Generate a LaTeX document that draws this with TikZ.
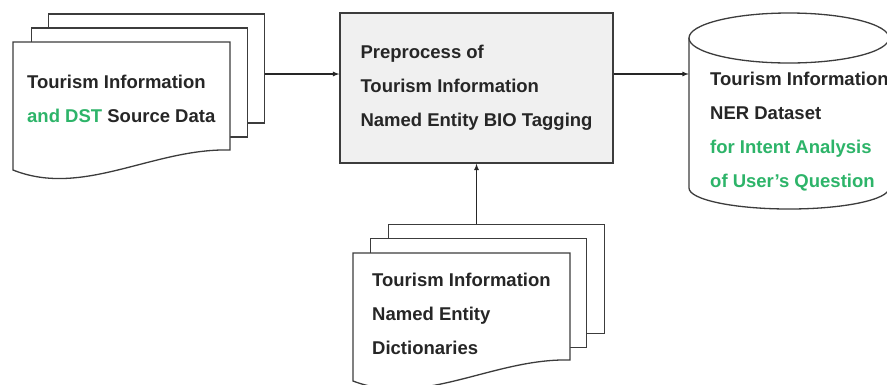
\documentclass[tikz,border=0pt]{standalone}
\usepackage{fontspec}
\setmainfont{Liberation Sans}
\usepackage{tikz}
\usetikzlibrary{arrows}
\definecolor{kwgreen}{RGB}{45,180,105}
\definecolor{procgray}{RGB}{240,240,240}
\definecolor{edgegray}{RGB}{60,60,60}

\tikzset{
  page/.style={shape=rectangle, draw=edgegray, fill=white, line width=1.3pt, minimum width=216pt, minimum height=109pt, inner sep=0pt},
  frontpage/.style={draw=edgegray, fill=white, line width=1.3pt},
  procbox/.style={shape=rectangle, draw=edgegray, fill=procgray, line width=1.3pt, minimum width=273pt, minimum height=150pt, align=left, font=\bfseries\fontsize{18.5}{34}\selectfont, text=black!85},
  label/.style={align=left, inner sep=0pt, font=\bfseries\fontsize{18.5}{34}\selectfont, text=black!85},
  flow/.style={-latex, draw=black!85, line width=1.2pt},
}

\begin{document}
\begin{tikzpicture}[x=1pt, y=-1pt]
    % Paths, nodes and wires:
    \useasboundingbox (0,0) rectangle (887,384);
    % source data (stacked pages)
    \node[page](srcback) at (156.5,68.5){};
    \node[page](srcmid) at (139.5,82.5){};
    \draw[frontpage] (13,42) -- (230,42) -- (230,150) .. controls (153,148) and (83,198) .. (13,170) -- cycle;
    \node[label, anchor=west](srctext) at (27,99){Tourism Information\\\textcolor{kwgreen}{and DST} Source Data};
    % preprocessing
    \node[procbox](proc) at (476.5,88){Preprocess of\\Tourism Information\\Named Entity BIO Tagging};
    % dictionaries (stacked pages)
    \node[page](dictback) at (496.5,279){};
    \node[page](dictmid) at (478.5,293){};
    \draw[frontpage] (353,253) -- (570,253) -- (570,360) .. controls (493,358) and (423,408) .. (353,381) -- cycle;
    \node[label, anchor=west](dicttext) at (372,314){Tourism Information\\Named Entity\\Dictionaries};
    % dataset (cylinder)
    \node[minimum width=200pt, minimum height=150pt, inner sep=0pt](db) at (789,113){};
    \draw[frontpage] (689,38) -- (689,188) arc[start angle=180, end angle=0, x radius=100, y radius=21] -- (889,38);
    \draw[frontpage] (789,38) ellipse[x radius=100, y radius=25];
    \node[label, anchor=west](dbtext) at (710,132){Tourism Information\\NER Dataset\\\textcolor{kwgreen}{for Intent Analysis}\\\textcolor{kwgreen}{of User's Question}};
    % wires
    \coordinate (srcout) at ([yshift=-5.5pt]srcback.east);
    \draw[flow] (srcout) -- (srcout -| proc.west);
    \draw[flow] (srcout -| proc.east) -- (srcout -| db.west);
    \draw[flow] (dictback.north -| proc.south) -- (proc.south);
\end{tikzpicture}
\end{document}
